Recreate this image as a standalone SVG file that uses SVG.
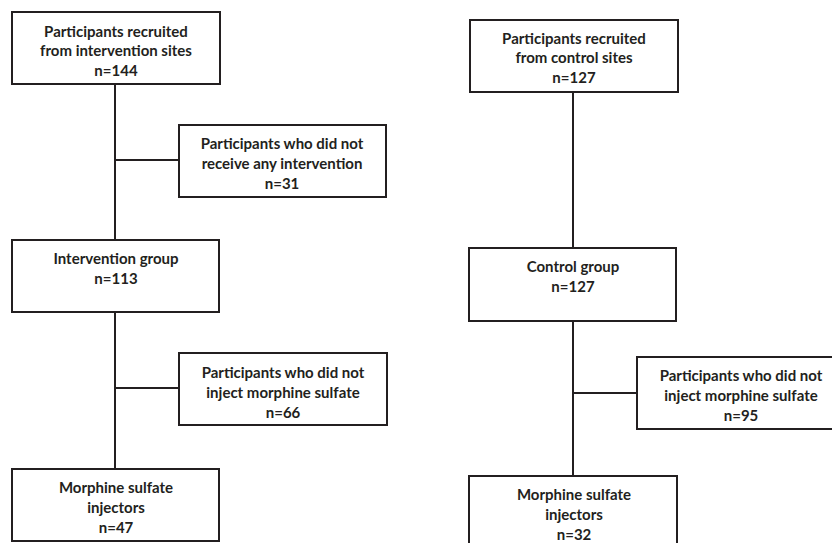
<svg xmlns="http://www.w3.org/2000/svg" width="832" height="543" viewBox="0 0 832 543">
<style>
.box{fill:#fff;stroke:#231f20;stroke-width:2}
.ln{stroke:#231f20;stroke-width:2;fill:none}
text{font-family:Lato,"Liberation Sans",sans-serif;font-weight:700;font-size:15px;fill:#231f20;text-anchor:middle}
</style>
<rect width="832" height="543" fill="#fff"/>
<g id="connectors">
<path class="ln" d="M115 84V240M115 160H179M115 312V469M115 388H179"/>
<path class="ln" d="M573 92V248M573 321V476M573 393H637"/>
</g>
<g id="n1"><rect class="box" x="12" y="12" width="208" height="72"/>
<text x="116" y="37">Participants recruited</text><text x="116" y="56">from intervention sites</text><text x="116" y="76">n=144</text></g>
<g id="n2"><rect class="box" x="179" y="125" width="207" height="72"/>
<text x="282" y="149">Participants who did not</text><text x="282" y="169">receive any intervention</text><text x="282" y="189">n=31</text></g>
<g id="n3"><rect class="box" x="12" y="240" width="207" height="72"/>
<text x="116" y="264">Intervention group</text><text x="116" y="284">n=113</text></g>
<g id="n4"><rect class="box" x="179" y="353" width="208" height="72"/>
<text x="283" y="378">Participants who did not</text><text x="283" y="398">inject morphine sulfate</text><text x="283" y="418">n=66</text></g>
<g id="n5"><rect class="box" x="12" y="469" width="207" height="72"/>
<text x="116" y="493">Morphine sulfate</text><text x="116" y="513">injectors</text><text x="116" y="533">n=47</text></g>
<g id="c1"><rect class="box" x="470" y="20" width="208" height="72"/>
<text x="574" y="44">Participants recruited</text><text x="574" y="63">from control sites</text><text x="574" y="83">n=127</text></g>
<g id="c2"><rect class="box" x="469" y="248" width="207" height="73"/>
<text x="573" y="272">Control group</text><text x="573" y="292">n=127</text></g>
<g id="c3"><rect class="box" x="637" y="357" width="210" height="72"/>
<text x="741" y="381">Participants who did not</text><text x="741" y="401">inject morphine sulfate</text><text x="741" y="421">n=95</text></g>
<g id="c4"><rect class="box" x="469" y="476" width="208" height="80"/>
<text x="574" y="500">Morphine sulfate</text><text x="574" y="520">injectors</text><text x="574" y="540">n=32</text></g>
</svg>
